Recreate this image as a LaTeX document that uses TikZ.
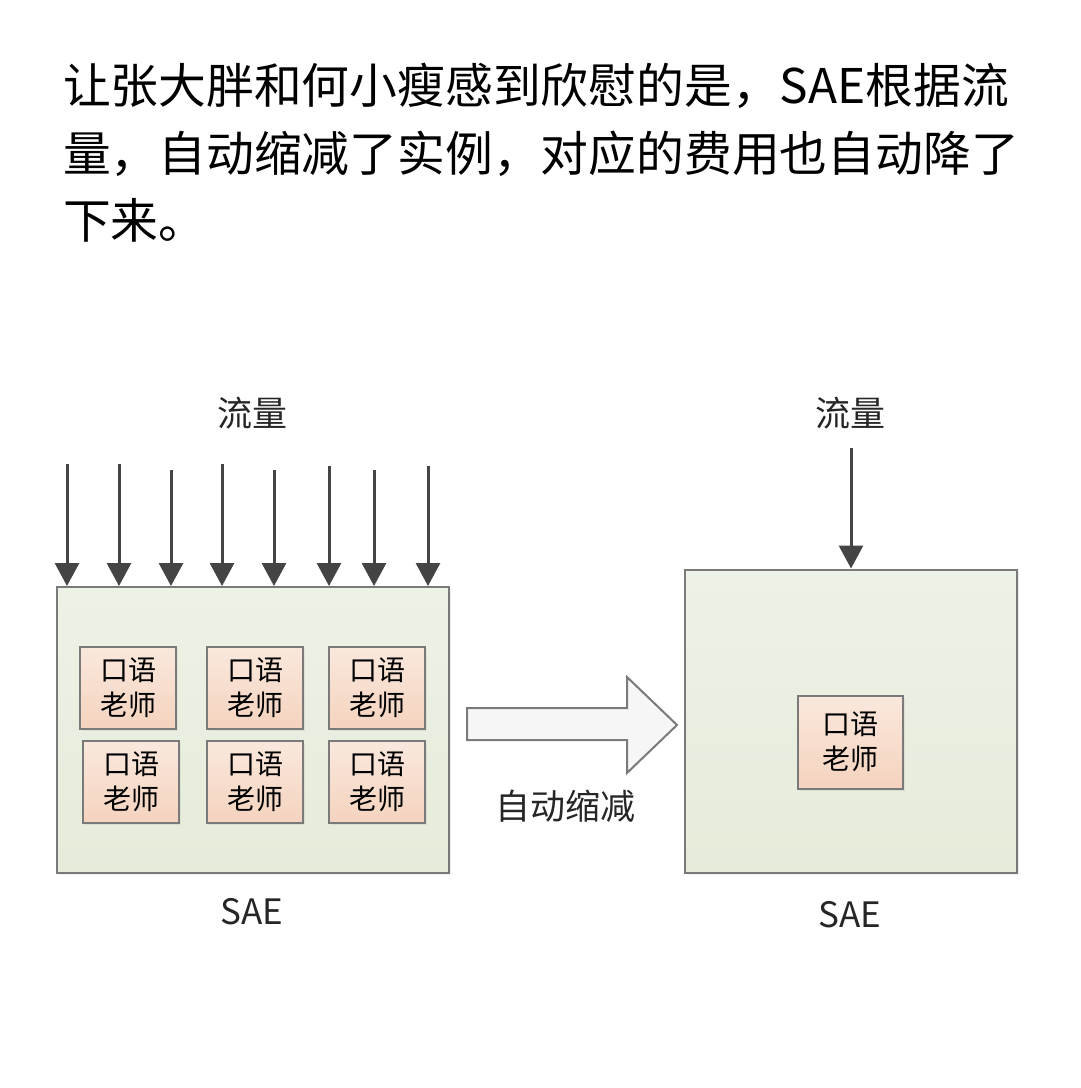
\documentclass[tikz,border=0pt]{standalone}
\usepackage{fontspec}
\setmainfont{Noto Sans CJK SC}
\usetikzlibrary{arrows.meta, shadows}
\definecolor{cline}{HTML}{444444}
\definecolor{cframe}{HTML}{7A7A7A}
\definecolor{cgreen}{HTML}{E5ECDA}
\definecolor{cgreentop}{HTML}{EDF2E6}
\definecolor{cpeach}{HTML}{F4D3BE}
\definecolor{cpeachtop}{HTML}{FAE8DD}
\definecolor{carrow}{HTML}{F6F6F6}
\tikzset{
  every picture/.style={line width=2pt},
  title/.style={anchor=base west, inner sep=0pt, font=\fontsize{47.8}{60}\selectfont},
  label/.style={inner sep=0pt, text=black!85, font=\fontsize{35}{40}\selectfont},
  sae/.style={draw=cframe, top color=cgreentop, bottom color=cgreen,
    drop shadow={shadow xshift=2pt, shadow yshift=-2pt, opacity=0.12}},
  teacher/.style={draw=cframe, top color=cpeachtop, bottom color=cpeach, align=center,
    minimum width=96pt, minimum height=82pt, inner sep=0pt,
    font=\fontsize{28}{35}\selectfont,
    drop shadow={shadow xshift=2pt, shadow yshift=-2pt, opacity=0.12}},
  flow/.style={-{Triangle[length=23pt, width=24pt]}, draw=cline, line width=3pt},
  hollow/.style={draw=cframe, fill=carrow, line width=2pt, line join=miter},
}

\begin{document}
\begin{tikzpicture}[x=1pt, y=-1pt]
  \fill[white] (0,0) rectangle (1080,1088);
  \useasboundingbox (0,0) rectangle (1080,1088);
  % caption text
  \node[title] (title1) at (62,103) {让张大胖和何小瘦感到欣慰的是，SAE根据流};
  \node[title] (title2) at (62,171) {量，自动缩减了实例，对应的费用也自动降了};
  \node[title] (title3) at (62,238) {下来。};
  % before: many instances
  \node[sae, minimum width=392pt, minimum height=286pt] (sae1) at (253,730) {};
  \node[label] (flow1) at (252,413) {流量};
  \node[label] (name1) at (252,912) {SAE};
  \foreach \x/\y [count=\i] in {67/464, 119/464, 171/470, 222/464, 274/470, 329/466, 374/470, 428/466} {
    \coordinate (in\i) at (\x,\y);
    \draw[flow] (in\i) -- (in\i |- sae1.north);
  }
  \node[teacher] (t1) at (128,688) {口语\\老师};
  \node[teacher] (t2) at (255,688) {口语\\老师};
  \node[teacher] (t3) at (377,688) {口语\\老师};
  \node[teacher] (t4) at (131,782) {口语\\老师};
  \node[teacher] (t5) at (255,782) {口语\\老师};
  \node[teacher] (t6) at (377,782) {口语\\老师};
  % scaling arrow
  \draw[hollow] (467,708) -- (627,708) -- (627,677) -- (677,725) -- (627,773) -- (627,740) -- (467,740) -- cycle;
  \node[label] (shrink) at (565,806) {自动缩减};
  % after: one instance
  \node[sae, minimum width=332pt, minimum height=303pt] (sae2) at (851,721) {};
  \node[label] (flow2) at (850,413) {流量};
  \node[label] (name2) at (850,915) {SAE};
  \coordinate (in9) at (851,448);
  \draw[flow] (in9) -- (in9 |- sae2.north);
  \node[teacher, minimum width=105pt, minimum height=93pt] (t7) at (850,742) {口语\\老师};
\end{tikzpicture}
\end{document}
